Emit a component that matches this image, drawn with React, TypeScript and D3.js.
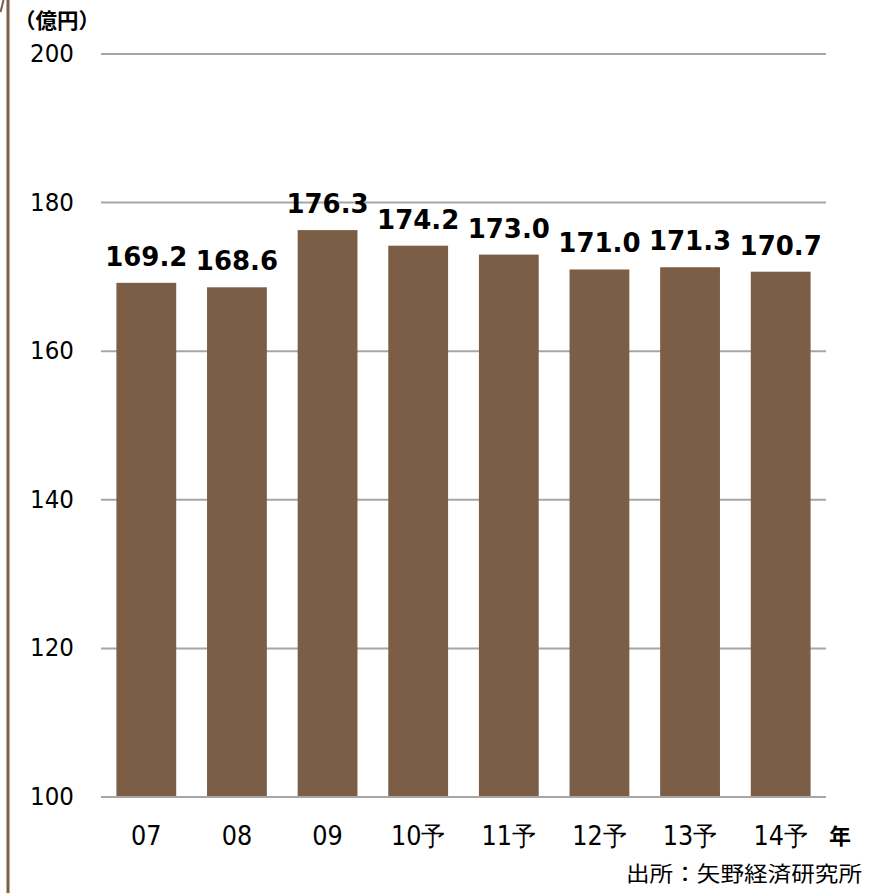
import React from "react";
import * as d3 from "d3";

const categories = ["07", "08", "09", "10予", "11予", "12予", "13予", "14予"];
const values = [169.2, 168.6, 176.3, 174.2, 173.0, 171.0, 171.3, 170.7];
const yTicks = [100, 120, 140, 160, 180, 200];

function T(props: any) {
  const { x, y, sy = 1, children, ...rest } = props;
  return (
    <text transform={`translate(${x},${y}) scale(1,${sy})`} {...rest}>{children}</text>
  );
}

export default function App() {
  const W = 883, H = 893;
  const x = d3.scaleBand<string>().domain(categories).range([101, 826]).paddingInner(0.34).paddingOuter(0.17);
  const y = d3.scaleLinear().domain([100, 200]).range([797, 54]);
  const font = "DejaVu Sans";
  const cjk = "Noto Sans CJK JP";
  return (
    <svg width={W} height={H} style={{ position: "absolute", left: 0, top: 0 }}>
      <rect width={W} height={H} fill="#fff" />
      <line x1={8} x2={8} y1={0} y2={H} stroke="#7b5e45" strokeWidth={3} />
      <line x1={0.5} y1={12} x2={3.5} y2={0} stroke="#7b5e45" strokeWidth={2} />
      {yTicks.map((t) => (
        <g key={t}>
          <line x1={101} x2={826} y1={y(t)} y2={y(t)} stroke="#a6a6a6" strokeWidth={2} />
          <T x={74} y={y(t) + 8} sy={1.05} textAnchor="end" fontFamily={font} fontSize={23} fill="#000">{t}</T>
        </g>
      ))}
      {categories.map((c, i) => (
        <g key={c}>
          <rect x={x(c)} y={y(values[i])} width={x.bandwidth()} height={y(100) - y(values[i])} fill="#7b5e45" />
          <T x={(x(c) as number) + x.bandwidth() / 2} y={y(values[i]) - 17} sy={1.04} textAnchor="middle" fontFamily={font} fontWeight="bold" fontSize={26} fill="#000">{values[i].toFixed(1)}</T>
          <T x={(x(c) as number) + x.bandwidth() / 2} y={845} sy={1.08} textAnchor="middle" fontFamily={font} fontSize={24} fill="#000">{c}</T>
        </g>
      ))}
      <line x1={101} x2={826} y1={y(100)} y2={y(100)} stroke="#a6a6a6" strokeWidth={2} />
      <text x={840} y={844} textAnchor="middle" fontFamily={cjk} fontWeight="bold" fontSize={22} fill="#000">年</text>
      <text x={626} y={881} textLength={236} lengthAdjust="spacingAndGlyphs" fontFamily={cjk} fontSize={21} fill="#000">出所：矢野経済研究所</text>
      <text x={14} y={28} textLength={86} lengthAdjust="spacingAndGlyphs" fontFamily={cjk} fontWeight="bold" fontSize={21} fill="#000">（億円）</text>
    </svg>
  );
}
